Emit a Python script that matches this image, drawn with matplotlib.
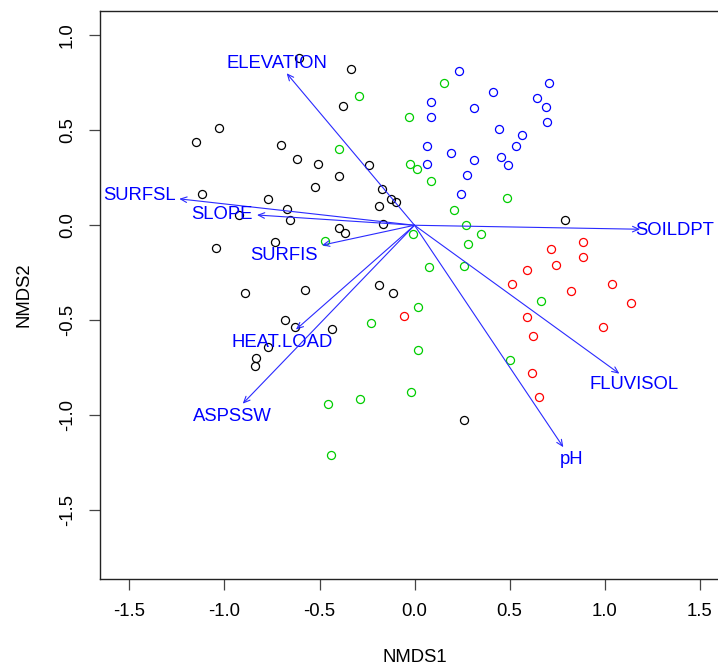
import numpy as np
import matplotlib
matplotlib.use('Agg')
import matplotlib.pyplot as plt

plt.rcParams['font.family'] = ['Liberation Sans', 'DejaVu Sans']

# site scores, by group
black_x = [-0.61, -1.03, -1.15, -0.70, -0.62, -0.51, -0.40, -0.525, -1.12, -0.77,
           -0.67, -0.925, -0.657, -0.334, -0.378, -0.238, -0.171, -0.185, -0.122,
           -0.10, -0.164, -0.395, -0.366, 0.794, -0.188, -0.111, -0.433, 0.262,
           -1.045, -0.734, -0.89, -0.575, -0.682, -0.629, -0.773, -0.833, -0.841]
black_y = [0.88, 0.51, 0.437, 0.42, 0.35, 0.32, 0.26, 0.20, 0.163, 0.137,
           0.084, 0.056, 0.026, 0.82, 0.63, 0.317, 0.19, 0.10, 0.14,
           0.125, 0.007, -0.015, -0.04, 0.026, -0.312, -0.356, -0.546, -1.026,
           -0.121, -0.088, -0.356, -0.342, -0.50, -0.535, -0.642, -0.696, -0.74]

green_x = [-0.40, -0.294, 0.155, -0.029, -0.024, 0.015, 0.089, 0.485, 0.21, 0.271,
           0.35, -0.008, 0.282, 0.078, 0.262, 0.667, 0.02, -0.227, 0.02, 0.503,
           -0.018, -0.285, -0.455, -0.44, -0.47]
green_y = [0.40, 0.68, 0.747, 0.568, 0.32, 0.296, 0.233, 0.146, 0.079, 0.002,
           -0.044, -0.044, -0.10, -0.218, -0.212, -0.40, -0.43, -0.512, -0.658, -0.707,
           -0.88, -0.914, -0.942, -1.21, -0.083]

blue_x = [0.233, 0.089, 0.089, 0.315, 0.415, 0.706, 0.643, 0.692, 0.696, 0.445,
          0.566, 0.533, 0.068, 0.194, 0.064, 0.315, 0.455, 0.49, 0.276, 0.243]
blue_y = [0.81, 0.646, 0.568, 0.617, 0.70, 0.747, 0.668, 0.62, 0.544, 0.505,
          0.475, 0.418, 0.418, 0.382, 0.32, 0.346, 0.36, 0.316, 0.263, 0.167]

red_x = [0.717, 0.746, 0.59, 0.513, 0.824, 0.59, 0.624, -0.057, 0.62, 0.654,
         0.885, 0.885, 1.041, 1.141, 0.992]
red_y = [-0.126, -0.21, -0.237, -0.309, -0.347, -0.484, -0.584, -0.479, -0.779, -0.905,
         -0.088, -0.165, -0.307, -0.41, -0.533]

# envfit vectors
vec_names = ['ELEVATION', 'SURFSL', 'SLOPE', 'SURFIS', 'HEAT.LOAD', 'ASPSSW',
             'SOILDPT', 'FLUVISOL', 'pH']
vec_x = [-0.673, -1.238, -0.829, -0.487, -0.624, -0.904, 1.187, 1.078, 0.783]
vec_y = [0.80, 0.139, 0.054, -0.105, -0.549, -0.939, -0.021, -0.781, -1.168]
lab_x = [-0.725, -1.445, -1.015, -0.685, -0.696, -0.959, 1.368, 1.155, 0.827]
lab_y = [0.851, 0.154, 0.058, -0.158, -0.617, -1.005, -0.03, -0.838, -1.235]

fs = 13.3

fig = plt.figure(figsize=(7.18, 6.67), dpi=100)
ax = fig.add_axes([100 / 718, (667 - 579.3) / 667, 630 / 718, 568.6 / 667])

groups = [(black_x, black_y, 'black'), (green_x, green_y, '#00CD00'),
          (blue_x, blue_y, '#0000FF'), (red_x, red_y, '#FF0000')]
for gx, gy, col in groups:
    ax.plot(gx, gy, 'o', ms=5.8, mfc='none', mec=col, mew=0.9, ls='none')

for i, name in enumerate(vec_names):
    ax.annotate('', xy=(vec_x[i], vec_y[i]), xytext=(0, 0),
                arrowprops=dict(arrowstyle='->,head_length=0.45,head_width=0.2',
                                color='#2a2aff', lw=0.8, shrinkA=0, shrinkB=0))
    ax.text(lab_x[i], lab_y[i], name, color='#0000FF', fontsize=fs,
            ha='center', va='center', clip_on=False)

ax.set_xlim(-1.655, 1.66)
ax.set_ylim(-1.863, 1.129)
ax.set_xticks([-1.5, -1.0, -0.5, 0.0, 0.5, 1.0, 1.5])
ax.set_yticks([-1.5, -1.0, -0.5, 0.0, 0.5, 1.0])
ax.set_xticklabels(['-1.5', '-1.0', '-0.5', '0.0', '0.5', '1.0', '1.5'])
ax.set_yticklabels(['-1.5', '-1.0', '-0.5', '0.0', '0.5', '1.0'],
                   rotation=90, va='center')
ax.tick_params(labelsize=fs, length=7.7, width=0.9, pad=9.5, color='#444444')
for sp in ax.spines.values():
    sp.set_linewidth(1.0)
    sp.set_color('#222222')

ax.set_xlabel('NMDS1', fontsize=fs, labelpad=21)
ax.set_ylabel('NMDS2', fontsize=fs, labelpad=19)

fig.savefig('out.png', dpi=100)
